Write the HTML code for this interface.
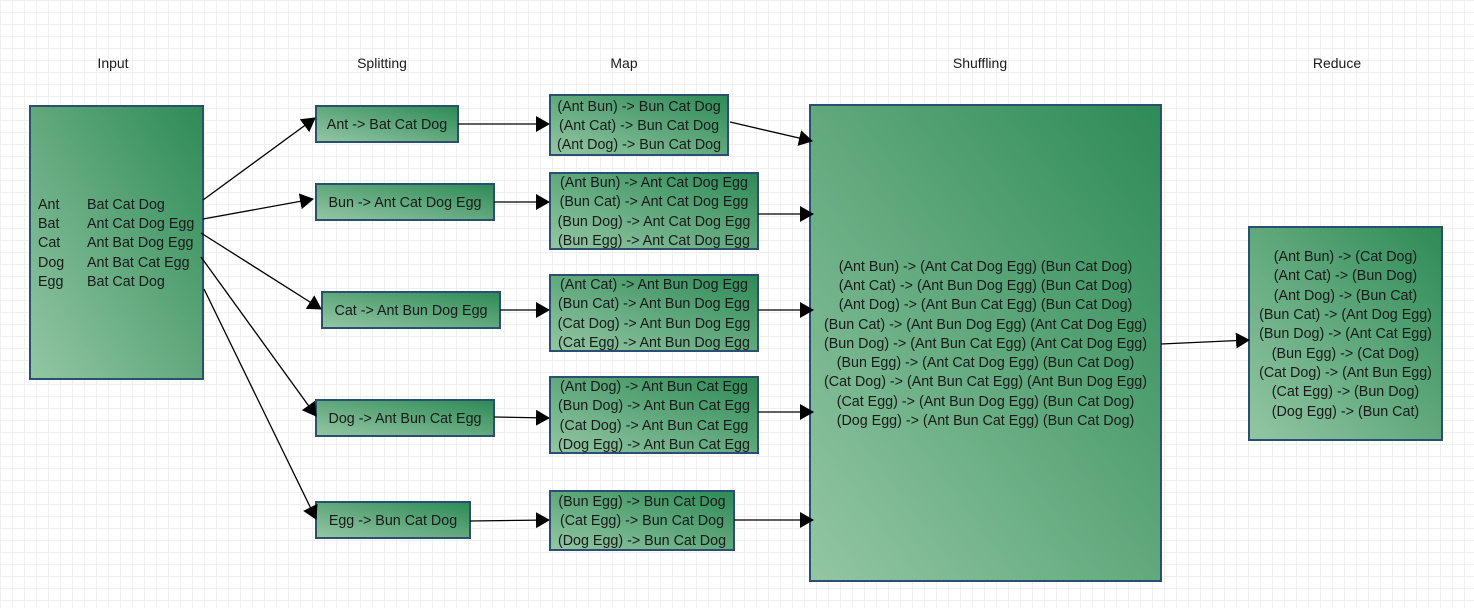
<!DOCTYPE html>
<html><head><style>
body{margin:0;width:1474px;height:608px;overflow:hidden;background:#fff;
background-image:linear-gradient(#efefef 1px,transparent 1px),linear-gradient(90deg,#efefef 1px,transparent 1px);background-size:12px 12px;
font-family:"Liberation Sans",sans-serif;font-size:14.3px;color:#1a1a1a;position:relative}
.b{position:absolute;box-sizing:border-box;border:2px solid #2b4f6e;background:linear-gradient(to top right,#93c6a3,#2e8b57);display:flex;align-items:center;justify-content:center;text-align:center;line-height:19.3px;white-space:nowrap;padding-top:3px}
.t{position:absolute;top:55px;transform:translateX(-50%);font-size:14px}
svg{position:absolute;left:0;top:0}
</style></head><body>
<div class="t" style="left:113px">Input</div>
<div class="t" style="left:382px">Splitting</div>
<div class="t" style="left:624px">Map</div>
<div class="t" style="left:980px">Shuffling</div>
<div class="t" style="left:1337px">Reduce</div>

<div class="b" style="left:29px;top:105px;width:175px;height:275px;justify-content:flex-start;text-align:left;padding-left:7px">
<table style="border-collapse:collapse;font-size:14.3px;line-height:19.3px"><tr><td style="width:49px;padding:0">Ant</td><td style="padding:0">Bat Cat Dog</td></tr><tr><td style="padding:0">Bat</td><td style="padding:0">Ant Cat Dog Egg</td></tr><tr><td style="padding:0">Cat</td><td style="padding:0">Ant Bat Dog Egg</td></tr><tr><td style="padding:0">Dog</td><td style="padding:0">Ant Bat Cat Egg</td></tr><tr><td style="padding:0">Egg</td><td style="padding:0">Bat Cat Dog</td></tr></table></div>

<div class="b" style="left:315px;top:105px;width:144px;height:38px">Ant -&gt; Bat Cat Dog</div>
<div class="b" style="left:315px;top:183px;width:180px;height:38px">Bun -&gt; Ant Cat Dog Egg</div>
<div class="b" style="left:321px;top:291px;width:180px;height:38px">Cat -&gt; Ant Bun Dog Egg</div>
<div class="b" style="left:315px;top:399px;width:180px;height:38px">Dog -&gt; Ant Bun Cat Egg</div>
<div class="b" style="left:315px;top:501px;width:156px;height:38px">Egg -&gt; Bun Cat Dog</div>

<div class="b" style="left:549px;top:94px;width:180px;height:62px">(Ant Bun) -&gt; Bun Cat Dog<br>(Ant Cat) -&gt; Bun Cat Dog<br>(Ant Dog) -&gt; Bun Cat Dog</div>
<div class="b" style="left:549px;top:172px;width:210px;height:78px">(Ant Bun) -&gt; Ant Cat Dog Egg<br>(Bun Cat) -&gt; Ant Cat Dog Egg<br>(Bun Dog) -&gt; Ant Cat Dog Egg<br>(Bun Egg) -&gt; Ant Cat Dog Egg</div>
<div class="b" style="left:549px;top:274px;width:210px;height:78px">(Ant Cat) -&gt; Ant Bun Dog Egg<br>(Bun Cat) -&gt; Ant Bun Dog Egg<br>(Cat Dog) -&gt; Ant Bun Dog Egg<br>(Cat Egg) -&gt; Ant Bun Dog Egg</div>
<div class="b" style="left:549px;top:376px;width:210px;height:78px">(Ant Dog) -&gt; Ant Bun Cat Egg<br>(Bun Dog) -&gt; Ant Bun Cat Egg<br>(Cat Dog) -&gt; Ant Bun Cat Egg<br>(Dog Egg) -&gt; Ant Bun Cat Egg</div>
<div class="b" style="left:549px;top:490px;width:186px;height:61px">(Bun Egg) -&gt; Bun Cat Dog<br>(Cat Egg) -&gt; Bun Cat Dog<br>(Dog Egg) -&gt; Bun Cat Dog</div>

<div class="b" style="left:809px;top:104px;width:353px;height:478px">(Ant Bun) -&gt; (Ant Cat Dog Egg) (Bun Cat Dog)<br>(Ant Cat) -&gt; (Ant Bun Dog Egg) (Bun Cat Dog)<br>(Ant Dog) -&gt; (Ant Bun Cat Egg) (Bun Cat Dog)<br>(Bun Cat) -&gt; (Ant Bun Dog Egg) (Ant Cat Dog Egg)<br>(Bun Dog) -&gt; (Ant Bun Cat Egg) (Ant Cat Dog Egg)<br>(Bun Egg) -&gt; (Ant Cat Dog Egg) (Bun Cat Dog)<br>(Cat Dog) -&gt; (Ant Bun Cat Egg) (Ant Bun Dog Egg)<br>(Cat Egg) -&gt; (Ant Bun Dog Egg) (Bun Cat Dog)<br>(Dog Egg) -&gt; (Ant Bun Cat Egg) (Bun Cat Dog)</div>

<div class="b" style="left:1248px;top:226px;width:195px;height:215px">(Ant Bun) -&gt; (Cat Dog)<br>(Ant Cat) -&gt; (Bun Dog)<br>(Ant Dog) -&gt; (Bun Cat)<br>(Bun Cat) -&gt; (Ant Dog Egg)<br>(Bun Dog) -&gt; (Ant Cat Egg)<br>(Bun Egg) -&gt; (Cat Dog)<br>(Cat Dog) -&gt; (Ant Bun Egg)<br>(Cat Egg) -&gt; (Bun Dog)<br>(Dog Egg) -&gt; (Bun Cat)</div>

<svg width="1474" height="608">
<defs><marker id="a" markerWidth="14" markerHeight="16" refX="13" refY="8" orient="auto" markerUnits="userSpaceOnUse"><path d="M0,0 L14,8 L0,16 Z" fill="#000"/></marker></defs>
<g stroke="#000" stroke-width="1.3" fill="none" marker-end="url(#a)">
<line x1="203" y1="200" x2="315" y2="118"/>
<line x1="203" y1="219" x2="313" y2="199"/>
<line x1="201" y1="233" x2="321" y2="309"/>
<line x1="201" y1="257" x2="316" y2="416"/>
<line x1="204" y1="289" x2="316" y2="519"/>
<line x1="458" y1="124" x2="549" y2="124"/>
<line x1="494" y1="202" x2="549" y2="202"/>
<line x1="500" y1="310" x2="549" y2="310"/>
<line x1="494" y1="417" x2="549" y2="418"/>
<line x1="470" y1="521" x2="549" y2="520"/>
<line x1="730" y1="122" x2="812" y2="141"/>
<line x1="758" y1="214" x2="813" y2="214"/>
<line x1="758" y1="310" x2="813" y2="310"/>
<line x1="758" y1="412" x2="813" y2="412"/>
<line x1="734" y1="520" x2="813" y2="520"/>
<line x1="1161" y1="344" x2="1249" y2="340"/>
</g></svg>
</body></html>
